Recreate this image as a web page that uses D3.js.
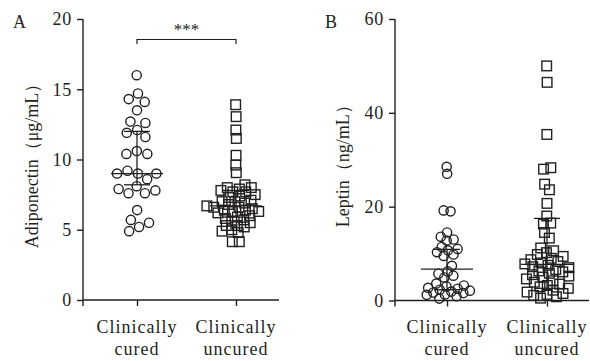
<!DOCTYPE html>
<html>
<head>
<meta charset="utf-8">
<script src="https://cdn.jsdelivr.net/npm/d3@7"></script>
<style>
  body { margin: 0; background: #fff; }
  svg { display: block; font-family: "Liberation Serif", "DejaVu Serif", serif; }
</style>
</head>
<body>
<svg id="chart" width="590" height="361"></svg>
<script>
// data
const groups = ["Clinically cured", "Clinically uncured"];
const groupLines = [["Clinically", "cured"], ["Clinically", "uncured"]];

// A: adiponectin (ug/mL)
const adipoCured = [16.0, 14.7, 14.3, 14.1, 13.5, 12.7, 12.6, 12.1, 11.9, 11.6, 10.6, 10.4, 10.4,
  9.2, 9.0, 9.0, 9.0, 8.6, 8.1, 7.9, 7.8, 7.6, 7.6, 6.4, 5.7, 5.5, 5.2, 4.9];
const adipoUncured = [13.9, 13.05, 12.1, 11.5, 10.3, 9.6, 9.06, 8.2, 8.0, 8.0, 7.9, 7.8, 7.7, 7.7,
  7.5, 7.4, 7.3, 7.1, 7.0, 7.0, 6.9, 6.8, 6.7, 6.6, 6.6, 6.5, 6.4, 6.4, 6.3, 6.3, 6.2, 6.0, 5.9,
  5.8, 5.7, 5.6, 5.5, 5.3, 5.3, 5.2, 5.0, 4.9, 4.8, 4.15, 4.15];
// median, q1, q3
const adipoStats = [[9.0, 8.2, 12.0], [6.7, 5.9, 7.8]];

// B: leptin (ng/mL)
const leptinCured = [28.5, 27.0, 19.2, 19.0, 14.5, 13.6, 13.0, 12.8, 11.4, 11.0, 10.7, 10.3, 9.8,
  9.5, 7.4, 6.2, 5.7, 5.3, 4.9, 3.6, 3.2, 3.0, 2.7, 2.5, 2.3, 2.1, 1.9, 1.7, 1.6, 1.3, 1.2, 0.9, 0.4];
const leptinUncured = [50.0, 46.5, 35.4, 28.3, 28.0, 24.8, 23.6, 20.7, 18.0, 16.5, 16.3, 14.5, 13.3,
  11.2, 10.6, 10.2, 9.8, 9.4, 9.0, 8.7, 8.3, 8.0, 7.8, 7.5, 7.2, 7.0, 6.6, 6.3, 6.1, 5.8, 5.5, 5.2,
  5.0, 4.6, 4.2, 3.9, 3.5, 3.2, 2.9, 2.6, 2.2, 1.8, 1.5, 1.3, 1.1, 0.8, 0.5];
const leptinStats = [[6.7, 2.3, 10.9], [7.7, 2.6, 17.5]];

const adipoTicks = [0, 5, 10, 15, 20];
const leptinTicks = [0, 20, 40, 60];

const ink = "#231f20";
let svg = d3.select("#chart");

drawPanel({
  letter: "A", title: "Adiponectin（μg/mL）",
  axisX: 83, axisEnd: 279, top: 19, bottom: 300,
  centers: [137, 236], domain: [0, 20], ticks: adipoTicks,
  titleX: 38, data: [adipoCured, adipoUncured], stats: adipoStats,
  collide: [5.4, 3.5], bracket: true
});

drawPanel({
  letter: "B", title: "Leptin（ng/mL）",
  axisX: 395, axisEnd: 589, top: 19, bottom: 300.5,
  centers: [447, 547], domain: [0, 60], ticks: leptinTicks,
  titleX: 349, data: [leptinCured, leptinUncured], stats: leptinStats,
  collide: [3.5, 3.7], bracket: false
});

function drawPanel(o) {
  let g = svg.append("g");

  let y = d3.scaleLinear().domain(o.domain).range([o.bottom, o.top]);
  let x = d3.scalePoint().domain(groups).range(o.centers);

  // y axis
  let yAxis = g.append("g")
    .attr("transform", "translate(" + o.axisX + ",0)")
    .call(d3.axisLeft(y).tickValues(o.ticks).tickSize(6).tickPadding(5).tickSizeOuter(0));
  yAxis.select(".domain").remove();
  g.append("line")
    .attr("x1", o.axisX).attr("x2", o.axisX)
    .attr("y1", o.top).attr("y2", o.bottom + 6)
    .attr("stroke", ink).attr("stroke-width", 1.4);

  // x axis
  let xAxis = g.append("g")
    .attr("transform", "translate(0," + o.bottom + ")")
    .call(d3.axisBottom(x).tickSize(6).tickSizeOuter(0).tickFormat(""));
  xAxis.select(".domain").remove();
  g.append("line")
    .attr("x1", o.axisX).attr("x2", o.axisEnd)
    .attr("y1", o.bottom).attr("y2", o.bottom)
    .attr("stroke", ink).attr("stroke-width", 1.4);

  g.selectAll(".tick line").attr("stroke", ink).attr("stroke-width", 1.4);
  yAxis.selectAll(".tick text")
    .attr("fill", ink)
    .style("font-family", "Liberation Serif, serif")
    .style("font-size", "18px")
    .style("letter-spacing", "0.8px");

  // category labels, two lines each
  groups.forEach(function(name, i) {
    let t = g.append("text")
      .attr("x", x(name)).attr("y", 333)
      .attr("text-anchor", "middle")
      .attr("fill", ink)
      .style("font-size", "18px")
      .style("letter-spacing", "1px");
    t.append("tspan").attr("x", x(name)).text(groupLines[i][0]);
    t.append("tspan").attr("x", x(name)).attr("dy", 22).text(groupLines[i][1]);
  });

  // panel letter and axis title
  g.append("text")
    .attr("x", o.axisX - 70).attr("y", 28)
    .attr("fill", ink).style("font-size", "18px")
    .text(o.letter);

  g.append("text")
    .attr("transform", "translate(" + o.titleX + "," + ((o.top + o.bottom) / 2 + 2) + ") rotate(-90)")
    .attr("text-anchor", "middle")
    .attr("fill", ink).style("font-size", "18px")
    .text(o.title);

  // points, laid out as a swarm around each category
  groups.forEach(function(name, i) {
    let nodes = swarm(o.data[i], x(name), y, o.collide[i]);
    let marks = g.append("g").attr("class", "points");
    if (i === 0) {
      marks.selectAll("circle").data(nodes).enter().append("circle")
        .attr("cx", function(d) { return d.x; })
        .attr("cy", function(d) { return d.y; })
        .attr("r", 4.6)
        .attr("fill", "none").attr("stroke", ink).attr("stroke-width", 1.4);
    } else {
      marks.selectAll("rect").data(nodes).enter().append("rect")
        .attr("x", function(d) { return d.x - 4.8; })
        .attr("y", function(d) { return d.y - 4.8; })
        .attr("width", 9.6).attr("height", 9.6)
        .attr("fill", "none").attr("stroke", ink).attr("stroke-width", 1.4);
    }

    // median with interquartile range
    let s = o.stats[i], cx = x(name);
    let bars = g.append("g").attr("stroke", ink).attr("stroke-width", 1.3);
    bars.append("line").attr("x1", cx - 26).attr("x2", cx + 26).attr("y1", y(s[0])).attr("y2", y(s[0]));
    bars.append("line").attr("x1", cx).attr("x2", cx).attr("y1", y(s[1])).attr("y2", y(s[2]));
    bars.append("line").attr("x1", cx - 13).attr("x2", cx + 13).attr("y1", y(s[1])).attr("y2", y(s[1]));
    bars.append("line").attr("x1", cx - 13).attr("x2", cx + 13).attr("y1", y(s[2])).attr("y2", y(s[2]));
  });

  if (o.bracket) {
    let x1 = x(groups[0]), x2 = x(groups[1]);
    g.append("path")
      .attr("d", "M" + x1 + ",44V39.5H" + x2 + "V44")
      .attr("fill", "none").attr("stroke", ink).attr("stroke-width", 1.2);
    g.append("text")
      .attr("x", (x1 + x2) / 2).attr("y", 35)
      .attr("text-anchor", "middle")
      .attr("fill", ink).style("font-size", "17px")
      .text("***");
  }
}

// beeswarm: y fixed at the value, x pushed apart by collision
function swarm(values, cx, y, radius) {
  let nodes = values.map(function(v, i) {
    return { v: v, fy: y(v), x: cx + ((i * 7) % 11 - 5) };
  });
  let sim = d3.forceSimulation(nodes)
    .force("x", d3.forceX(cx).strength(0.04))
    .force("collide", d3.forceCollide(radius).iterations(4))
    .stop();
  for (let i = 0; i < 300; i++) sim.tick();
  return nodes;
}
</script>
</body>
</html>
